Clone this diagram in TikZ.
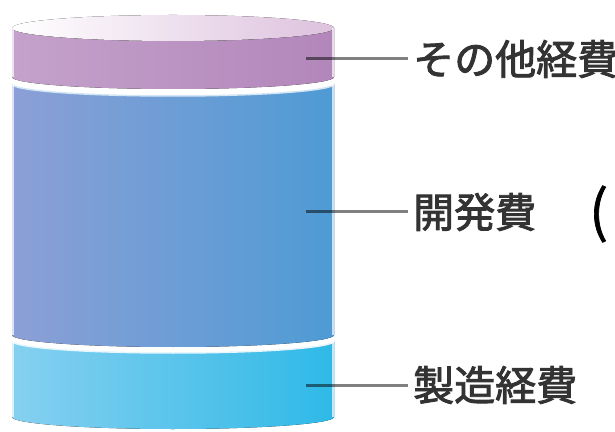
\documentclass[tikz,border=0pt]{standalone}
\usepackage{fontspec}
\newfontfamily\jp{Noto Sans CJK JP}[FakeBold=2.2]
\newfontfamily\jpparen{Noto Sans CJK JP}[FakeBold=1.2]
\usetikzlibrary{calc}
\definecolor{txt}{HTML}{333333}
\definecolor{lead}{HTML}{808080}
\definecolor{puL}{HTML}{C4A2CB}
\definecolor{puR}{HTML}{B286BA}
\definecolor{topL}{HTML}{FFFFFF}
\definecolor{topR}{HTML}{DDC2DE}
\definecolor{blL}{HTML}{8C9FD6}
\definecolor{blR}{HTML}{4E9BD5}
\definecolor{cyL}{HTML}{86D0F0}
\definecolor{cyR}{HTML}{2FB9E7}
\tikzset{
  lbl/.style={anchor=west, text=txt, font=\jp\fontsize{41}{47}\selectfont, inner ysep=0pt, inner xsep=5pt},
  leader/.style={draw=lead, line width=3pt, blend mode=multiply},
  rim/.style={draw=white, line width=1.2pt, opacity=0.7},
}
\begin{document}
\begin{tikzpicture}[x=1pt,y=1pt]
\useasboundingbox (0,0) rectangle (615,431);
% cyan band (製造経費)
\fill[left color=cyL, right color=cyR]
  (12,14) arc[start angle=180,end angle=360,x radius=161,y radius=12]
  -- (334,90) arc[start angle=0,end angle=-180,x radius=161,y radius=12] -- cycle;
\draw[draw=white!80!cyL, line width=1.5pt] (12,90) arc[start angle=180,end angle=360,x radius=161,y radius=12];
% blue band (開発費)
\fill[left color=blL, right color=blR]
  (12,96) arc[start angle=180,end angle=360,x radius=161,y radius=12]
  -- (334,347) arc[start angle=0,end angle=-180,x radius=161,y radius=12] -- cycle;
\draw[draw=white!75!blR, line width=1.5pt] (12,347) arc[start angle=180,end angle=360,x radius=161,y radius=12];
% purple band (その他経費)
\fill[left color=puL, right color=puR]
  (12,354) arc[start angle=180,end angle=360,x radius=161,y radius=12]
  -- (334,403) arc[start angle=0,end angle=-180,x radius=161,y radius=13] -- cycle;
% top ellipse
\fill[left color=topL, right color=topR] (173,403) ellipse[x radius=161, y radius=13];
% side rims
\draw[rim] (13,14) -- (13,90) (333,14) -- (333,90);
\draw[rim] (13,96) -- (13,347) (333,96) -- (333,347);
\draw[rim] (13,354) -- (13,403) (333,354) -- (333,403);
% nodes
\coordinate (s1) at (306,372);
\coordinate (s2) at (306,219);
\coordinate (s3) at (306,46);
\node[lbl] (l1) at (408,372) {その他経費};
\node[lbl] (l2) at (408,219) {開発費};
\node[lbl] (l3) at (408,46) {製造経費};
\node[anchor=west, text=black, font=\jpparen\fontsize{56}{60}\selectfont, inner sep=0pt] (par) at (589,217) {(};
\draw[leader] (s1) -- (l1.west);
\draw[leader] (s2) -- (l2.west);
\draw[leader] (s3) -- (l3.west);
\end{tikzpicture}
\end{document}
